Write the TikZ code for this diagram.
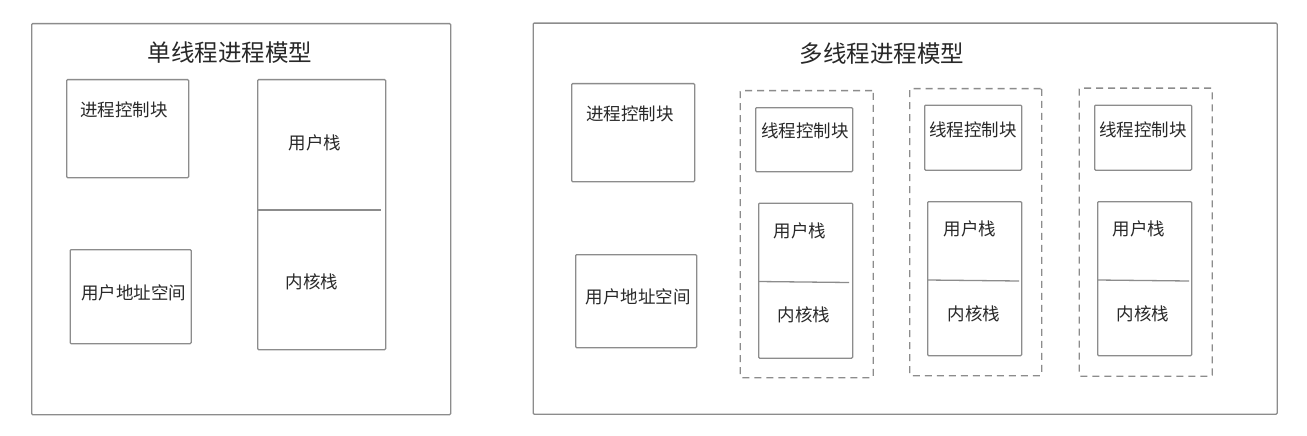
\documentclass[tikz,border=0pt]{standalone}
\usepackage{fontspec}
\setmainfont{Noto Sans CJK SC}
\begin{document}
\begin{tikzpicture}[x=1pt,y=-1pt,
  line/.style={draw={rgb,255:red,140;green,140;blue,140},line width=1.3pt},
  box/.style={line,rectangle,rounded corners=1pt,anchor=north west,inner sep=0pt},
  group/.style={box,dash pattern=on 7pt off 5pt},
  title/.style={font=\fontsize{23.5}{26}\selectfont,text={rgb,255:red,40;green,40;blue,40},inner sep=0pt},
  lbl/.style={font=\fontsize{17.5}{20}\selectfont,text={rgb,255:red,40;green,40;blue,40},inner sep=0pt}]
\useasboundingbox (0,0) rectangle (1307,436);
\fill[white] (0,0) rectangle (1307,436);

% ---- single-threaded process ----
\node[box,minimum width=419pt,minimum height=391pt] (single) at (31,23) {};
\node[title] (stitle) at (230,53) {单线程进程模型};
\node[box,minimum width=122pt,minimum height=98pt] (spcb) at (66,79) {};
\node[lbl] (spcbt) at (124,110) {进程控制块};
\node[box,minimum width=121pt,minimum height=94pt] (sas) at (69.5,249) {};
\node[lbl] (sast) at (133.5,293) {用户地址空间};
\node[box,minimum width=128pt,minimum height=270pt] (sstk) at (257,79) {};
\coordinate (sdA) at (257,210);
\coordinate (sdB) at (381,210);
\draw[line] (sdA) -- (sdB);
\node[lbl] (sut) at (315,143) {用户栈};
\node[lbl] (skt) at (312,282) {内核栈};

% ---- multi-threaded process ----
\node[box,minimum width=744pt,minimum height=391pt] (multi) at (532.5,22.5) {};
\node[title] (mtitle) at (882,54) {多线程进程模型};
\node[box,minimum width=123pt,minimum height=98pt] (mpcb) at (571,83) {};
\node[lbl] (mpcbt) at (630,114) {进程控制块};
\node[box,minimum width=121pt,minimum height=93pt] (mas) at (575,254) {};
\node[lbl] (mast) at (638,297) {用户地址空间};

% thread 1
\node[group,minimum width=133pt,minimum height=287pt] (g1) at (739.5,90) {};
\node[box,minimum width=97pt,minimum height=64pt] (t1) at (755,107) {};
\node[lbl] (t1t) at (805,131) {线程控制块};
\node[box,minimum width=94pt,minimum height=155pt] (k1) at (758,202.5) {};
\coordinate (d1a) at (758,281.5);
\coordinate (d1b) at (849,282.5);
\draw[line] (d1a) -- (d1b);
\node[lbl] (u1t) at (800,231) {用户栈};
\node[lbl] (n1t) at (804,315) {内核栈};

% thread 2
\node[group,minimum width=132pt,minimum height=287pt] (g2) at (909,88) {};
\node[box,minimum width=97pt,minimum height=65pt] (t2) at (924,104.5) {};
\node[lbl] (t2t) at (973,130) {线程控制块};
\node[box,minimum width=94pt,minimum height=154pt] (k2) at (927,201) {};
\coordinate (d2a) at (927,280);
\coordinate (d2b) at (1019,281);
\draw[line] (d2a) -- (d2b);
\node[lbl] (u2t) at (970,229) {用户栈};
\node[lbl] (n2t) at (974,314) {内核栈};

% thread 3
\node[group,minimum width=133pt,minimum height=288pt] (g3) at (1078.5,87.5) {};
\node[box,minimum width=97pt,minimum height=65pt] (t3) at (1094,104.5) {};
\node[lbl] (t3t) at (1143,130) {线程控制块};
\node[box,minimum width=94pt,minimum height=154pt] (k3) at (1097,201) {};
\coordinate (d3a) at (1097,280);
\coordinate (d3b) at (1189,281);
\draw[line] (d3a) -- (d3b);
\node[lbl] (u3t) at (1139,229) {用户栈};
\node[lbl] (n3t) at (1143,314) {内核栈};
\end{tikzpicture}
\end{document}
